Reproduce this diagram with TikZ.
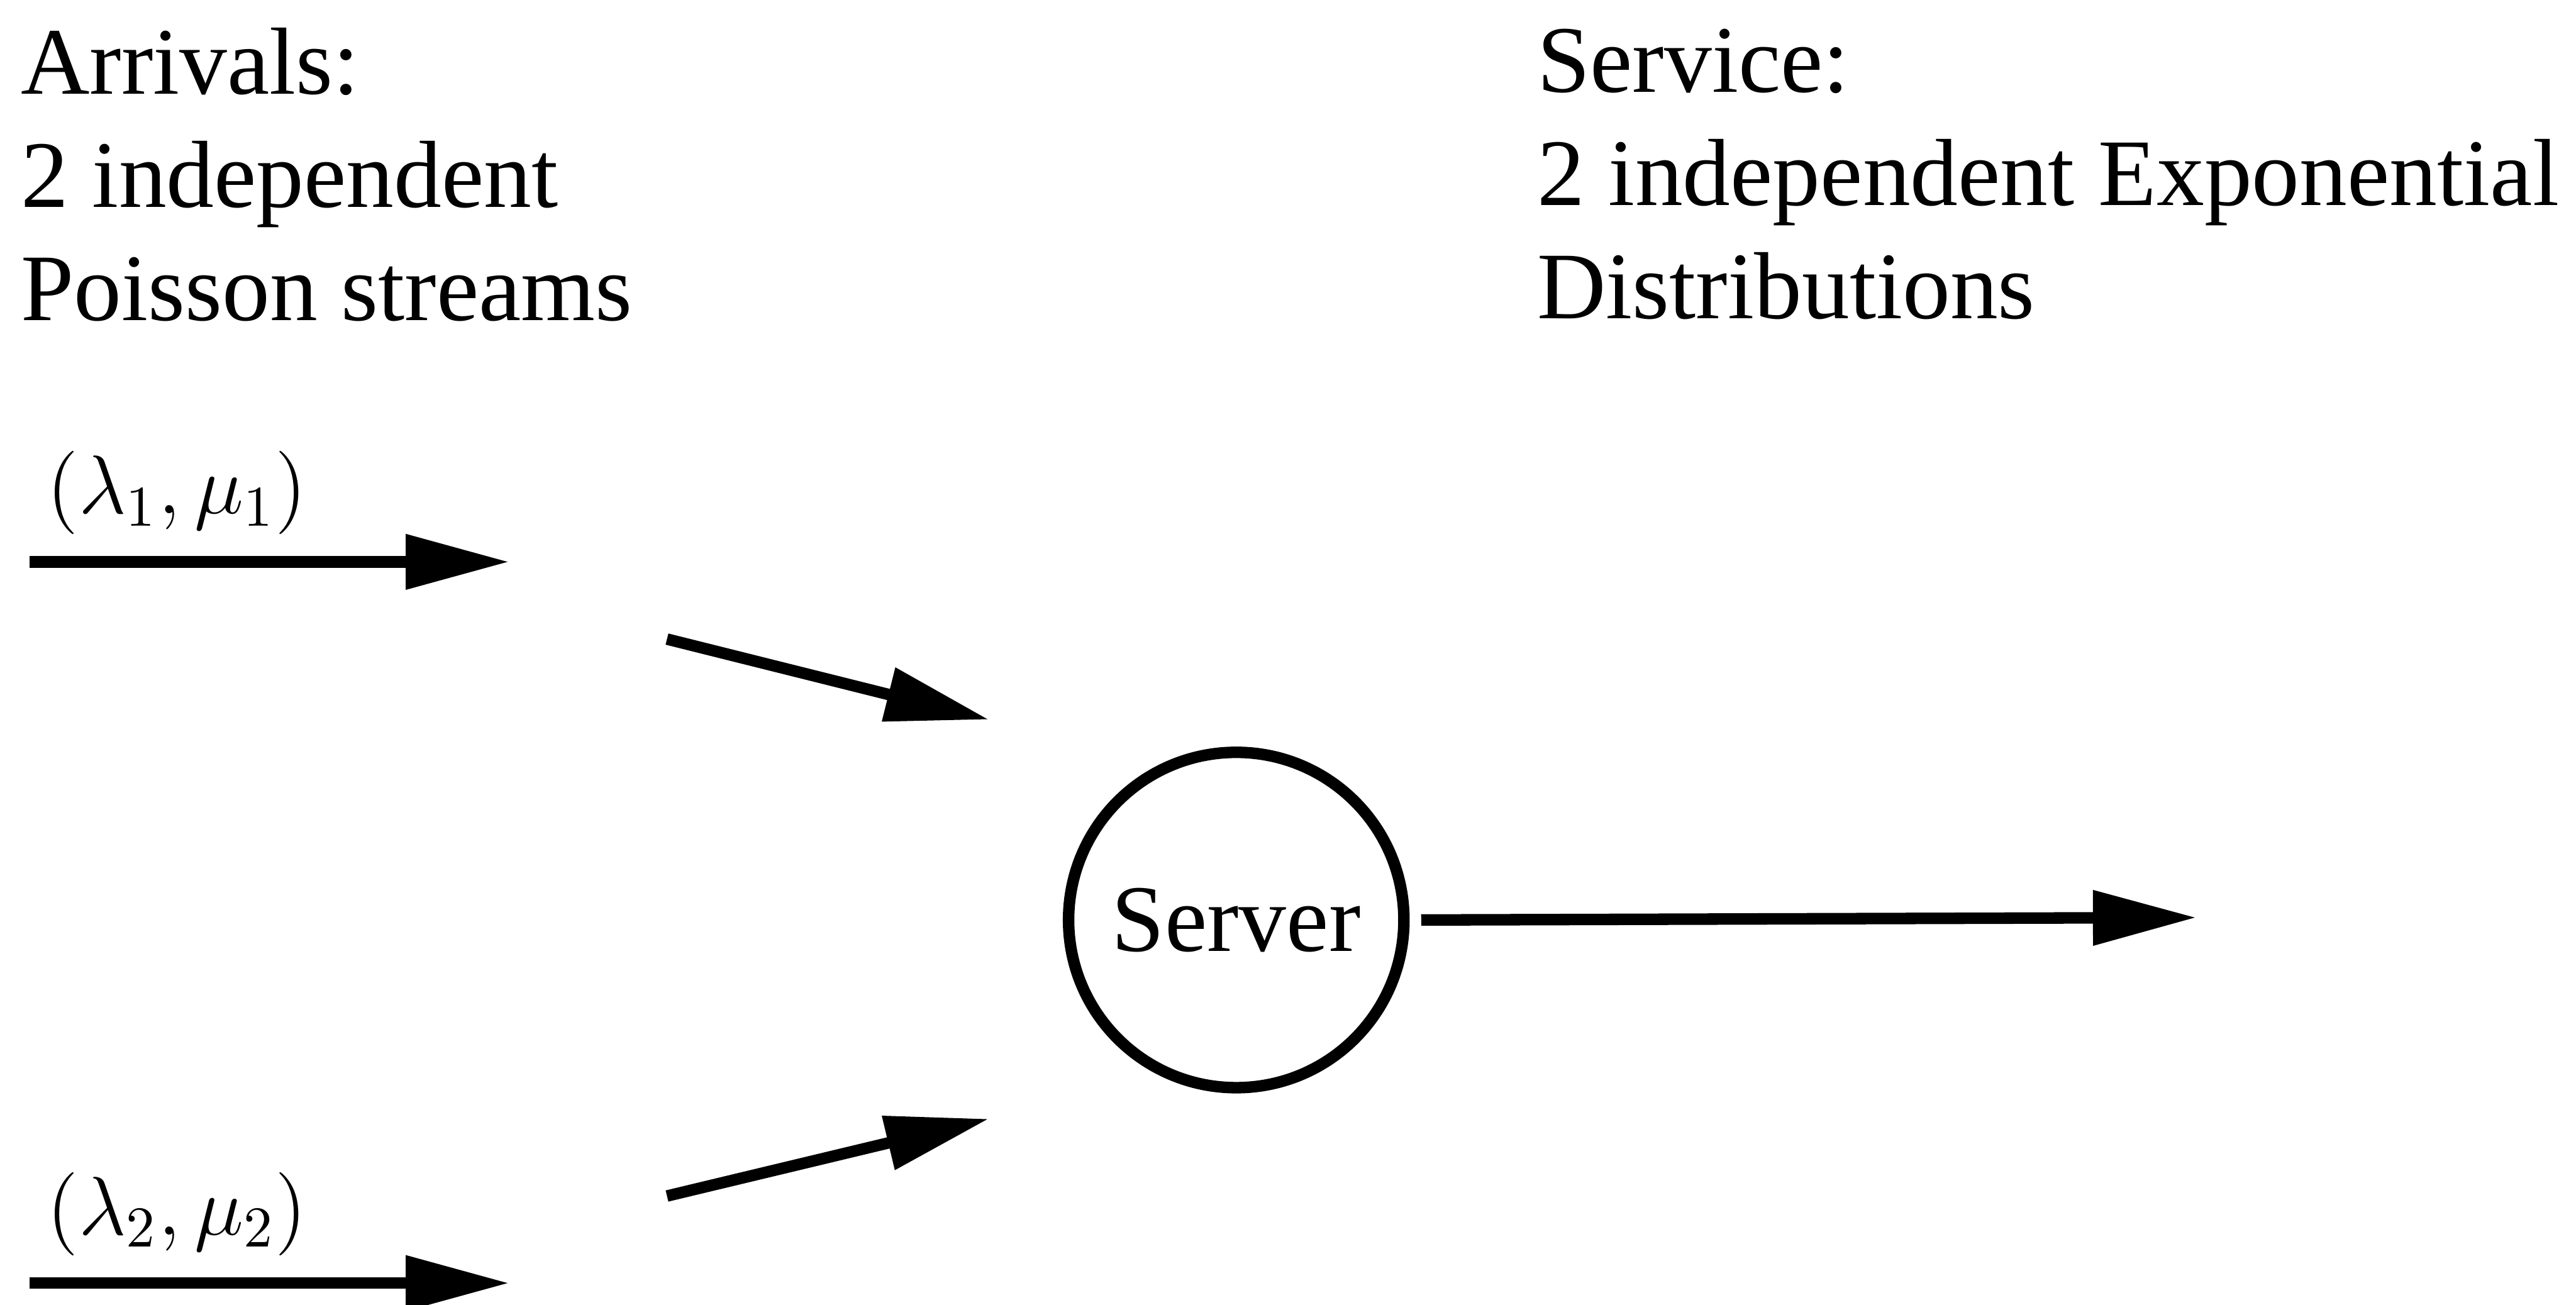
\documentclass[tikz,border=0pt]{standalone}
\usepackage{fontspec}
\setmainfont{Liberation Serif}
\usetikzlibrary{arrows.meta,positioning}

\begin{document}
\begin{tikzpicture}[x=0.01cm,y=-0.01cm,>={Triangle[length=0.63cm,width=0.32cm]}]
    \tikzstyle{txt}=[font=\fontsize{16.5}{19.6}\selectfont,align=left,
    inner sep=0pt,anchor=base west]
    \tikzstyle{rate}=[font=\fontsize{14}{16}\selectfont,inner sep=0pt,anchor=base west]
    \tikzstyle{srv}=[circle,draw=black,line width=0.07cm,minimum size=2.04cm,
    inner sep=0pt,font=\fontsize{16.5}{19.6}\selectfont]
    \tikzstyle{flow}=[->,line width=0.07cm]

    \useasboundingbox (0,0) rectangle (1568,794);

    % base anchor sits on the last line
    \node[txt](arrivals) at (12,195){Arrivals:\\2 independent\\Poisson streams};
    \node[txt](service) at (935,194){Service:\\2 independent Exponential\\Distributions};

    \node[srv](server) at (752.5,560){Server};

    % incoming streams
    \coordinate (in1_start) at (18,342);
    \coordinate (in1_end) at (310,342);
    \node[rate](rate1) at (28,312.5){$(\lambda_1,\mu_1)$};
    \coordinate (in2_start) at (18,781);
    \coordinate (in2_end) at (310,781);
    \node[rate](rate2) at (28,751.5){$(\lambda_2,\mu_2)$};

    \coordinate (join1_start) at (406,389);
    \coordinate (join1_end) at (602,438);
    \coordinate (join2_start) at (406,728);
    \coordinate (join2_end) at (602,681);

    \coordinate (departure) at (1337,558.5);

    \draw[flow] (in1_start) -- (in1_end);
    \draw[flow] (in2_start) -- (in2_end);
    \draw[flow] (join1_start) -- (join1_end);
    \draw[flow] (join2_start) -- (join2_end);

    \draw[flow] ([xshift=0.07cm]server.east) -- (departure);
  \end{tikzpicture}
\end{document}
